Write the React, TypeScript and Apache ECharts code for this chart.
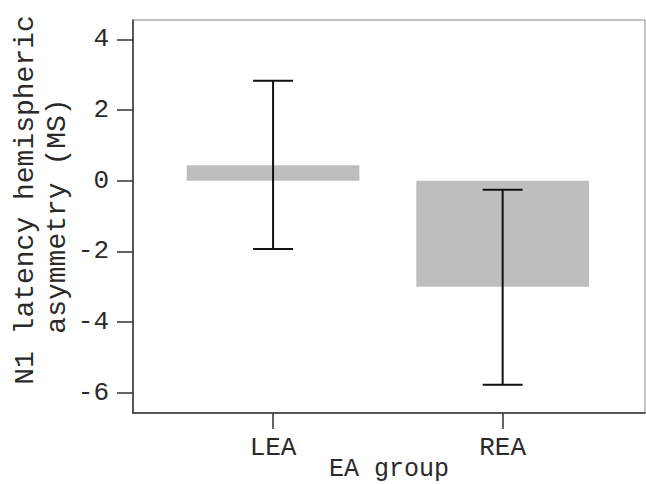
import React, { useEffect, useRef } from "react";
import * as echarts from "echarts";

const categories = ["LEA", "REA"];
const means = [0.44, -3.0];
const ciLow = [-1.93, -5.77];
const ciHigh = [2.83, -0.25];
const yTicks = [-6, -4, -2, 0, 2, 4];
const xPositions = [1, 2];

const FONT = "Liberation Mono";

export default function App() {
  const ref = useRef<HTMLDivElement>(null);
  useEffect(() => {
    if (!ref.current) return;
    const chart = echarts.init(ref.current, null, { renderer: "svg" });
    const barData = xPositions.map((x, i) => [x, means[i]]);
    const errData = xPositions.map((x, i) => [x, ciLow[i], ciHigh[i]]);
    chart.setOption({
      animation: false,
      backgroundColor: "#ffffff",
      grid: {
        left: 133,
        top: 20,
        right: 1,
        bottom: 71,
        show: true,
        borderColor: "#888",
        borderWidth: 1,
        containLabel: false,
        outerBoundsMode: "none",
      },
      xAxis: {
        type: "value",
        min: 0.39,
        max: 2.62,
        splitLine: { show: false },
        axisLine: { show: true, onZero: false, lineStyle: { color: "#333", width: 1.5 } },
        axisTick: { show: true, length: 16, customValues: xPositions, lineStyle: { color: "#333", width: 1.5 } },
        axisLabel: {
          customValues: xPositions,
          formatter: (v: number) => categories[Math.round(v) - 1] ?? "",
          fontFamily: FONT,
          fontSize: 26,
          color: "#2a2a2a",
          margin: 22,
        },
        name: "EA group",
        nameLocation: "middle",
        nameGap: 44,
        nameMoveOverlap: false,
        nameTextStyle: { fontFamily: FONT, fontSize: 25, color: "#2a2a2a" },
      },
      yAxis: {
        type: "value",
        min: -6.57,
        max: 4.55,
        splitLine: { show: false },
        axisLine: { show: true, onZero: false, lineStyle: { color: "#333", width: 1.5 } },
        axisTick: { show: true, length: 16, customValues: yTicks, lineStyle: { color: "#333", width: 1.5 } },
        axisLabel: {
          customValues: yTicks,
          formatter: (v: number) => (v < 0 ? "-" + Math.abs(v) : String(v)),
          fontFamily: FONT,
          fontSize: 26,
          color: "#2a2a2a",
          margin: 24,
        },
      },
      graphic: [
        {
          type: "text",
          x: 25,
          y: 200,
          rotation: Math.PI / 2,
          style: {
            text: "N1 latency hemispheric",
            font: `28px "${FONT}"`,
            fill: "#2a2a2a",
            align: "center",
            verticalAlign: "middle",
          },
        },
        {
          type: "text",
          x: 57,
          y: 216,
          rotation: Math.PI / 2,
          style: {
            text: "asymmetry (MS)",
            font: `28px "${FONT}"`,
            fill: "#2a2a2a",
            align: "center",
            verticalAlign: "middle",
          },
        },
      ],
      series: [
        {
          type: "custom",
          data: barData,
          z: 2,
          renderItem: (params: any, api: any) => {
            const x = api.value(0);
            const v = api.value(1);
            const p1 = api.coord([x - 0.376, v]);
            const p2 = api.coord([x + 0.376, 0]);
            return {
              type: "rect",
              shape: {
                x: Math.min(p1[0], p2[0]),
                y: Math.min(p1[1], p2[1]),
                width: Math.abs(p2[0] - p1[0]),
                height: Math.abs(p2[1] - p1[1]),
              },
              style: { fill: "#bdbebd" },
            };
          },
        },
        {
          type: "custom",
          data: errData,
          z: 3,
          renderItem: (params: any, api: any) => {
            const x = api.value(0);
            const lo = api.value(1);
            const hi = api.value(2);
            const pLo = api.coord([x, lo]);
            const pHi = api.coord([x, hi]);
            const capL = api.coord([x - 0.087, lo]);
            const capR = api.coord([x + 0.087, lo]);
            const capL2 = api.coord([x - 0.087, hi]);
            const capR2 = api.coord([x + 0.087, hi]);
            const style = { stroke: "#111", lineWidth: 2 };
            return {
              type: "group",
              children: [
                { type: "line", shape: { x1: pLo[0], y1: pLo[1], x2: pHi[0], y2: pHi[1] }, style },
                { type: "line", shape: { x1: capL[0], y1: capL[1], x2: capR[0], y2: capR[1] }, style },
                { type: "line", shape: { x1: capL2[0], y1: capL2[1], x2: capR2[0], y2: capR2[1] }, style },
              ],
            };
          },
        },
      ],
    });
    return () => chart.dispose();
  }, []);
  return (
    <div
      ref={ref}
      style={{ position: "fixed", left: 0, top: 0, width: 646, height: 484 }}
    />
  );
}
